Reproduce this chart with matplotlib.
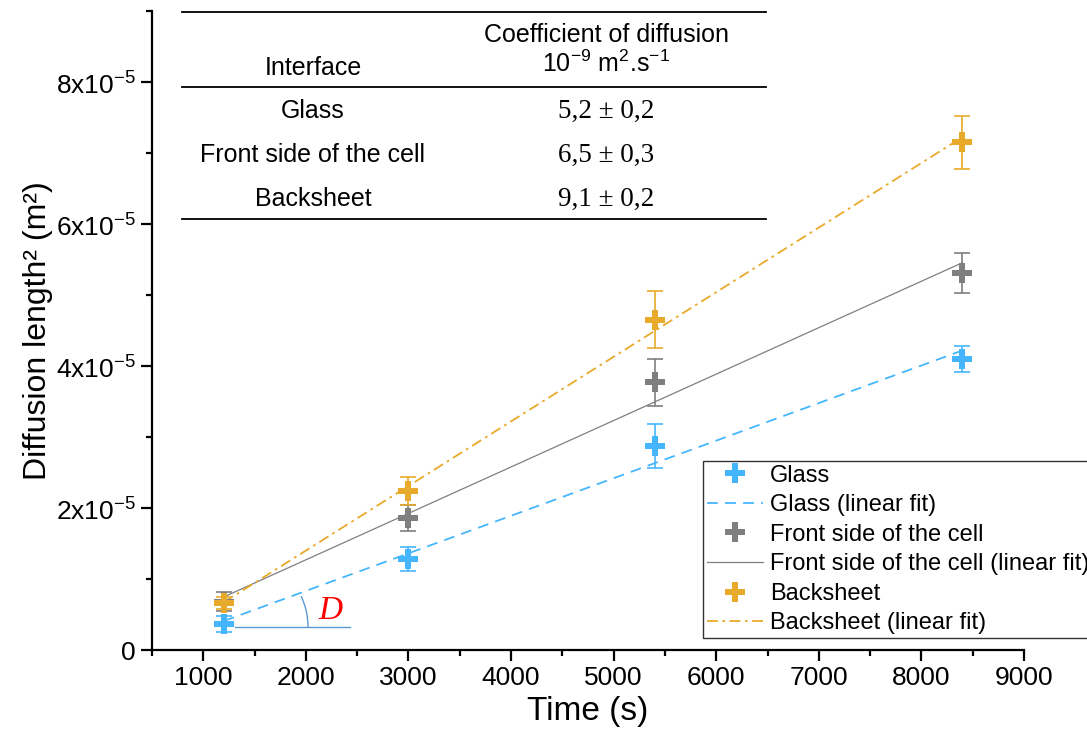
import matplotlib
matplotlib.use('Agg')
import matplotlib.pyplot as plt
from matplotlib.lines import Line2D
from matplotlib.patches import Arc
from matplotlib.ticker import MultipleLocator, FixedLocator
import numpy as np

# Data
time_s = [1200, 3000, 5400, 8400]

glass = [0.37e-5, 1.28e-5, 2.87e-5, 4.10e-5]
glass_err = [0.11e-5, 0.17e-5, 0.31e-5, 0.18e-5]

front = [0.68e-5, 1.86e-5, 3.77e-5, 5.31e-5]
front_err = [0.13e-5, 0.18e-5, 0.33e-5, 0.28e-5]

back = [0.66e-5, 2.24e-5, 4.65e-5, 7.15e-5]
back_err = [0.08e-5, 0.20e-5, 0.40e-5, 0.37e-5]

y_ticks = [0, 2e-5, 4e-5, 6e-5, 8e-5]
y_tick_labels = ['0', r'2x10$^{\mathregular{-5}}$', r'4x10$^{\mathregular{-5}}$',
                 r'6x10$^{\mathregular{-5}}$', r'8x10$^{\mathregular{-5}}$']
x_ticks = [1000, 2000, 3000, 4000, 5000, 6000, 7000, 8000, 9000]

# Table inset
interfaces = ['Glass', 'Front side of the cell', 'Backsheet']
coef_values = ['5,2 ± 0,2', '6,5 ± 0,3', '9,1 ± 0,2']

c_glass = '#45B6FE'
c_front = '#7F7F7F'
c_back = '#E8AA2B'

plt.rcParams['font.family'] = ['Liberation Sans', 'DejaVu Sans']
plt.rcParams['mathtext.fontset'] = 'custom'
plt.rcParams['mathtext.rm'] = 'Liberation Sans'
plt.rcParams['axes.unicode_minus'] = False

W, H = 1087, 755
fig = plt.figure(figsize=(W / 100, H / 100), dpi=100)
ax = fig.add_axes([152 / W, 1 - 650 / H, (1024 - 152) / W, (650 - 11) / H])

series = [
    ('Glass', glass, glass_err, c_glass, dict(ls=(0, (6, 4)), lw=1.3)),
    ('Front side of the cell', front, front_err, c_front, dict(ls='-', lw=0.9)),
    ('Backsheet', back, back_err, c_back, dict(ls=(0, (6, 2.5, 1.5, 2.5)), lw=1.3)),
]

handles = []
x = np.array(time_s)
for name, y, err, col, style in series:
    # linear fit of the read points
    p = np.polyfit(x, y, 1)
    fit_line, = ax.plot(x[[0, -1]], np.polyval(p, x[[0, -1]]), color=col, zorder=2, **style)
    ax.errorbar(x, y, yerr=err, fmt='none', ecolor=col, elinewidth=1.2,
                capsize=5.5, capthick=1.2, zorder=3)
    pts, = ax.plot(x, y, 'P', color=col, ms=14, mew=0, zorder=4, linestyle='none')
    handles += [pts, fit_line]

labels = ['Glass', 'Glass (linear fit)', 'Front side of the cell',
          'Front side of the cell (linear fit)', 'Backsheet', 'Backsheet (linear fit)']
leg = ax.legend(handles, labels, loc='upper left', bbox_to_anchor=(703 / W, 1 - 461 / H),
                bbox_transform=fig.transFigure, fontsize=17, frameon=True, fancybox=False,
                edgecolor='#333333', framealpha=1, handlelength=2.4, handletextpad=0.3,
                labelspacing=0.32, borderpad=0.15, borderaxespad=0)
leg.get_frame().set_linewidth(1.0)

ax.set_xlim(500, 9000)
ax.set_ylim(0, 9e-5)
ax.xaxis.set_major_locator(FixedLocator(x_ticks))
ax.xaxis.set_minor_locator(MultipleLocator(500))
ax.set_yticks(y_ticks)
ax.set_yticklabels(y_tick_labels)
ax.yaxis.set_minor_locator(MultipleLocator(1e-5))

for s in ['top', 'right']:
    ax.spines[s].set_visible(False)
for s in ['left', 'bottom']:
    ax.spines[s].set_linewidth(1.6)
ax.tick_params(which='major', direction='out', length=8, width=1.6, labelsize=19)
ax.tick_params(which='minor', direction='out', length=4.5, width=1.6)

ax.set_xlabel('Time (s)', fontsize=24, labelpad=4)
ax.set_ylabel('Diffusion length² (m²)', fontsize=23, labelpad=2)

# table drawn on top of the axes area
tx0, tx1 = 182 / W, 766 / W
for yy in [12, 87, 219]:
    fig.add_artist(Line2D([tx0, tx1], [1 - yy / H] * 2, color='black', lw=1.3))
col1, col2 = 313 / W, 606 / W
fig.text(col1, 1 - 68 / H, 'Interface', ha='center', va='center', fontsize=18)
fig.text(col2, 1 - 35 / H, 'Coefficient of diffusion', ha='center', va='center', fontsize=18)
fig.text(col2, 1 - 64 / H, r'10$^{\mathregular{-9}}$ m$^{\mathregular{2}}$.s$^{\mathregular{-1}}$',
         ha='center', va='center', fontsize=18)
for i, (name, val) in enumerate(zip(interfaces, coef_values)):
    yy = 1 - (111 + 44 * i) / H
    fig.text(col1, yy, name, ha='center', va='center', fontsize=18)
    fig.text(col2, yy, val, ha='center', va='center', fontsize=19.5, family='Liberation Serif')

# slope annotation D
fig.add_artist(Line2D([235 / W, 350 / W], [1 - 627 / H] * 2, color='#5B9BD5', lw=1.0))
fig.add_artist(Arc((235 / 100, (H - 627) / 100), 1.46, 1.46, theta1=0, theta2=25,
                   transform=fig.dpi_scale_trans, color='#5B9BD5', lw=1.0))
fig.text(330 / W, 1 - 611 / H, 'D', color='red', fontsize=24, style='italic',
         family='Liberation Serif', ha='center', va='center')

fig.savefig('out.png', dpi=100)
